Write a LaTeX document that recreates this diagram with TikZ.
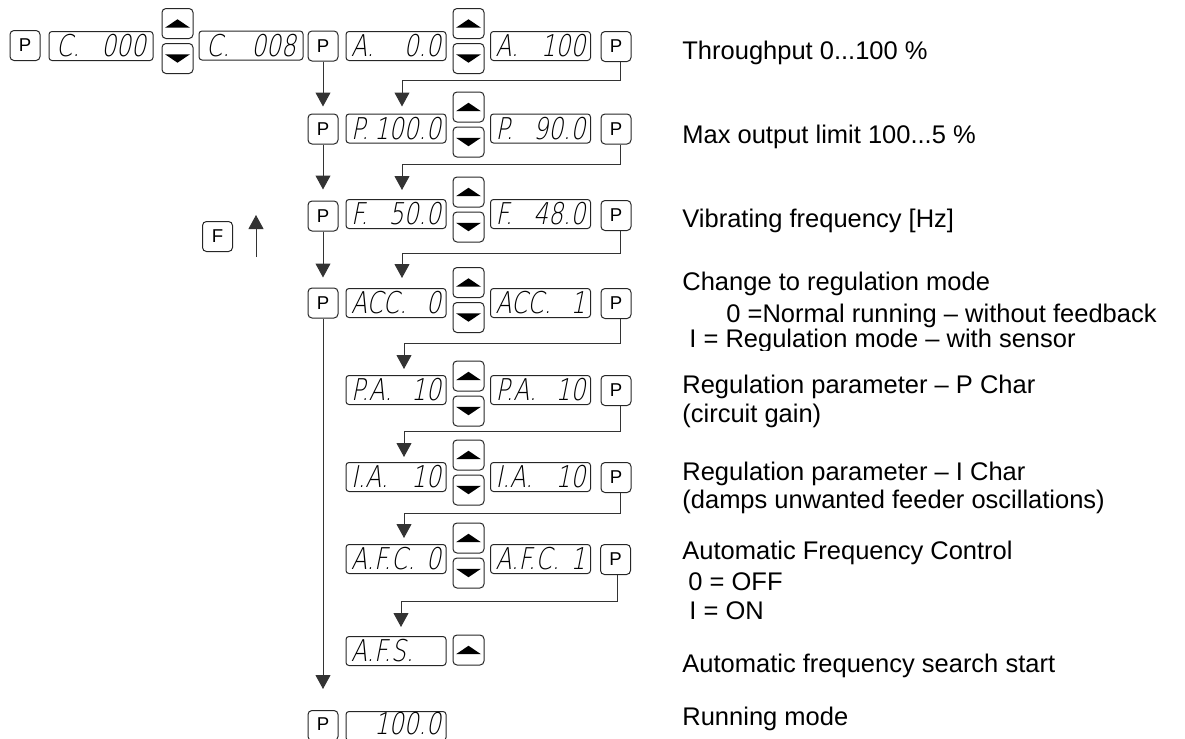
\documentclass[tikz,border=0pt]{standalone}
\usepackage{fontspec}
\usetikzlibrary{arrows.meta,calc}
\newfontfamily\descfont{Liberation Sans}
\newfontfamily\segfont[FakeSlant=0.2,FakeStretch=0.78]{DejaVu Sans ExtraLight}
\tikzset{
 keybox/.style={draw=black!85, line width=0.5pt, rounded corners=2pt, minimum width=15pt, minimum height=15pt, inner sep=0pt, font=\descfont\fontsize{9.3}{10}\selectfont},
 dispbox/.style={draw=black!85, line width=0.5pt, rounded corners=1.5pt, minimum width=50pt, minimum height=14.5pt, inner sep=0pt, font=\segfont\fontsize{15}{15}\selectfont},
 btnbox/.style={draw=black!85, line width=0.5pt, rounded corners=2pt, minimum width=15.5pt, minimum height=15pt, inner sep=0pt},
 conn/.style={draw=black!80, line width=0.5pt},
 arr/.style={conn, -{Triangle[width=7.5pt,length=7pt]}},
 desc/.style={anchor=base west, inner sep=0pt, font=\descfont\fontsize{12.75}{15}\selectfont},
}
\newcommand\dsp[6][]{\node[dispbox,#1] (#2) at (#3,#4) {\makebox[45pt]{#5\hfill#6}};}
\newcommand\upbtn[3]{%
 \node[btnbox] (#1) at (#2,#3) {};
 \fill ([xshift=-6.25pt,yshift=-2.1pt]#1.center) -- ([xshift=6.25pt,yshift=-2.1pt]#1.center) -- ([yshift=2.1pt]#1.center) -- cycle;}
\newcommand\downbtn[3]{%
 \node[btnbox] (#1) at (#2,#3) {};
 \fill ([xshift=-6.25pt,yshift=2.1pt]#1.center) -- ([xshift=6.25pt,yshift=2.1pt]#1.center) -- ([yshift=-2.1pt]#1.center) -- cycle;}
\newcommand\updown[3]{\upbtn{#1u}{#2}{#3-17.5}\downbtn{#1d}{#2}{#3+17.5}}
\begin{document}
\begin{tikzpicture}[x=0.5pt,y=-0.5pt]
\useasboundingbox (0,0) rectangle (1185,739);
% row 1
\node[keybox] (p0) at (25,45.5) {P};
\dsp[minimum width=52pt]{c1}{101}{46}{C.}{000}
\updown{b0}{177.5}{41}
\dsp[minimum width=52pt]{c2}{251}{45.5}{C.}{008}
\node[keybox] (p1) at (323,46) {P};
\dsp{r1a}{396}{46}{A.}{0.0}
\updown{b1}{468.5}{41}
\dsp{r1b}{540.5}{46}{A.}{100}
\node[keybox] (p1r) at (616,46.5) {P};
% row 2
\node[keybox] (p2) at (323,129) {P};
\dsp{r2a}{396}{128.5}{P.}{100.0}
\updown{b2}{468.5}{124.5}
\dsp{r2b}{540.5}{128.5}{P.}{90.0}
\node[keybox] (p2r) at (616,129) {P};
% row 3
\node[keybox] (p3) at (323,216) {P};
\dsp{r3a}{396}{214}{F.}{50.0}
\updown{b3}{468.5}{209.5}
\dsp{r3b}{540.5}{214}{F.}{48.0}
\node[keybox] (p3r) at (616,215.5) {P};
% row 4
\node[keybox] (p4) at (323,303) {P};
\dsp{r4a}{396}{303}{ACC.}{0}
\updown{b4}{468.5}{300}
\dsp{r4b}{540.5}{303}{ACC.}{1}
\node[keybox] (p4r) at (616,303.5) {P};
% row 5
\dsp{r5a}{396}{390}{P.A.}{10}
\updown{b5}{468.5}{393.5}
\dsp{r5b}{540.5}{390}{P.A.}{10}
\node[keybox] (p5r) at (616,390.5) {P};
% row 6
\dsp{r6a}{396}{477}{I.A.}{10}
\updown{b6}{468.5}{472.5}
\dsp{r6b}{540.5}{477}{I.A.}{10}
\node[keybox] (p6r) at (616,477.5) {P};
% row 7
\dsp{r7a}{396}{559}{A.F.C.}{0}
\updown{b7}{468.5}{555.5}
\dsp{r7b}{540.5}{559}{A.F.C.}{1}
\node[keybox] (p7r) at (615.5,559.5) {P};
% row 8
\dsp{r8a}{396}{651}{A.F.S.}{}
\upbtn{b8u}{468.5}{650}
% row 9
\node[keybox] (p9) at (323,725.5) {\raisebox{1.5pt}{P}};
\dsp{r9a}{396}{726}{}{\raisebox{2.5pt}{100.0}}
% F key
\node[keybox] (fkey) at (217.5,236.5) {F};
\coordinate (fa) at (256,257);
\coordinate (fb) at (256,215);
\draw[arr] (fa) -- (fb);
% connectors right
\draw[arr] ([xshift=2pt]p1r.south) -- ++(0,18) -| ([xshift=3pt,yshift=3.5pt]r2a.north);
\draw[arr] ([xshift=2pt]p2r.south) -- ++(0,20) -| ([xshift=3pt,yshift=4.5pt]r3a.north);
\draw[arr] ([xshift=2pt]p3r.south) -- ++(0,22) -| ([xshift=3pt,yshift=5pt]r4a.north);
\draw[arr] ([xshift=2pt]p4r.south) -- ++(0,24) -| ([xshift=4pt,yshift=3pt]r5a.north);
\draw[arr] ([xshift=2pt]p5r.south) -- ++(0,25) -| ([xshift=4pt,yshift=2.5pt]r6a.north);
\draw[arr] ([xshift=2pt]p6r.south) -- ++(0,20) -| ([xshift=4pt,yshift=3pt]r7a.north);
\draw[arr] ([xshift=1pt]p7r.south) -- ++(0,26) -| ([xshift=2.5pt,yshift=4.5pt]r8a.north);
% connectors left
\draw[arr] (p1.south) -- ([yshift=3.5pt]p2.north);
\draw[arr] (p2.south) -- ([yshift=5.5pt]p3.north);
\draw[arr] (p3.south) -- ([yshift=5pt]p4.north);
\draw[arr] (p4.south) -- ([yshift=10.5pt]p9.north);
% descriptions
\node[desc] (t1) at (682,59) {Throughput 0...100 \%};
\node[desc] (t2) at (682,143) {Max output limit 100...5 \%};
\node[desc] (t3) at (682,227) {Vibrating frequency [Hz]};
\node[desc] (t4) at (682,290) {Change to regulation mode};
\node[desc] (t5) at (726,322) {0 =Normal running – without feedback};
\begin{scope}
\clip (640,325) rectangle (1185,350);
\node[desc] (t6) at (689,347) {I = Regulation mode – with sensor};
\end{scope}
\node[desc] (t7) at (682,393) {Regulation parameter – P Char};
\node[desc] (t8) at (682,422) {(circuit gain)};
\node[desc] (t9) at (682,480) {Regulation parameter – I Char};
\node[desc] (t10) at (682,508) {(damps unwanted feeder oscillations)};
\node[desc] (t11) at (682,559) {Automatic Frequency Control};
\node[desc] (t12) at (688,590) {0 = OFF};
\node[desc] (t13) at (689,619) {I = ON};
\node[desc] (t14) at (682,672) {Automatic frequency search start};
\node[desc] (t15) at (682,725) {Running mode};
\end{tikzpicture}
\end{document}
